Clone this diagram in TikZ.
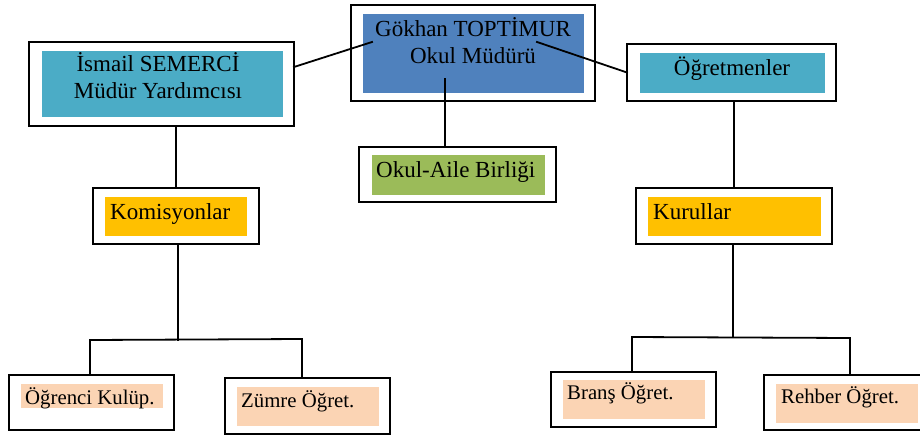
\documentclass[tikz,border=0pt]{standalone}
\usepackage{fontspec}
\setmainfont{Liberation Serif}
\usetikzlibrary{calc}
\definecolor{cblue}{HTML}{4F81BD}
\definecolor{cteal}{HTML}{4BACC6}
\definecolor{cgreen}{HTML}{9BBB59}
\definecolor{corange}{HTML}{FFC000}
\definecolor{cpeach}{HTML}{FBD4B4}
\tikzset{
  obox/.style={draw=black, line width=2pt, rectangle, inner sep=0pt, outer sep=0pt},
  fbox/.style={rectangle, inner sep=0pt, outer sep=0pt, draw=none},
  big/.style={font=\fontsize{23}{27}\selectfont, inner sep=0pt},
  small/.style={font=\fontsize{20.8}{24}\selectfont, inner sep=0pt},
  conn/.style={line width=1.8pt, line cap=rect},
}
\begin{document}
\begin{tikzpicture}[x=1pt,y=-1pt]
\useasboundingbox (0,0) rectangle (920,436);
% top: Gokhan
\node[obox, minimum width=244, minimum height=96] (gok) at (473,53) {};
\node[fbox, fill=cblue, minimum width=221, minimum height=79] (gokin) at (473.5,53.5) {};
\node[big, align=center] (gokt) at (473,41) {Gökhan TOPTİMUR\\Okul Müdürü};
% Ismail
\node[obox, minimum width=265, minimum height=84] (ism) at (161.5,84) {};
\node[fbox, fill=cteal, minimum width=241, minimum height=66] (ismin) at (162.5,84) {};
\node[big, align=center] (ismt) at (158,76) {İsmail SEMERCİ\\Müdür Yardımcısı};
% Ogretmenler
\node[obox, minimum width=209, minimum height=57] (ogr) at (731.5,72.5) {};
\node[fbox, fill=cteal, minimum width=185, minimum height=40] (ogrin) at (732.5,73) {};
\node[big, anchor=base] (ogrt) at (732,75) {Öğretmenler};
% Okul-Aile
\node[obox, minimum width=197, minimum height=55] (oab) at (457.5,174.5) {};
\node[fbox, fill=cgreen, minimum width=173, minimum height=40] (oabin) at (458.5,175) {};
\node[big, anchor=base west] (oabt) at (376,177) {Okul-Aile Birliği};
% Komisyonlar
\node[obox, minimum width=166, minimum height=56] (kom) at (176,216) {};
\node[fbox, fill=corange, minimum width=142, minimum height=39] (komin) at (176,216.5) {};
\node[big, anchor=base west] (komt) at (110,219) {Komisyonlar};
% Kurullar
\node[obox, minimum width=196, minimum height=56] (kur) at (734,216) {};
\node[fbox, fill=corange, minimum width=173, minimum height=39] (kurin) at (734.5,216.5) {};
\node[big, anchor=base west] (kurt) at (653,219) {Kurullar};
% bottom left
\node[obox, minimum width=165, minimum height=55] (ogk) at (91.5,402.5) {};
\node[fbox, fill=cpeach, minimum width=142, minimum height=24] (ogkin) at (92,396) {};
\node[small, anchor=base west] (ogkt) at (25,404) {Öğrenci Kulüp.};
\node[obox, minimum width=165, minimum height=56] (zum) at (307.5,406) {};
\node[fbox, fill=cpeach, minimum width=142, minimum height=39] (zumin) at (308,406.5) {};
\node[small, anchor=base west] (zumt) at (241,407) {Zümre Öğret.};
% bottom right
\node[obox, minimum width=165, minimum height=55] (bra) at (633.5,399.5) {};
\node[fbox, fill=cpeach, minimum width=142, minimum height=39] (brain) at (634,399.5) {};
\node[small, anchor=base west] (brat) at (567,399) {Branş Öğret.};
\node[obox, minimum width=166, minimum height=55] (reh) at (847,402.5) {};
\node[fbox, fill=cpeach, minimum width=142, minimum height=39] (rehin) at (847,403.5) {};
\node[small, anchor=base west] (reht) at (781,403) {Rehber Öğret.};
% connectors
\coordinate (g1) at (372,42);
\coordinate (g2) at (537,42);
\coordinate (g3) at (445,79);
\draw[conn] (g1) -- ($(ism.north east)+(0,25)$);
\draw[conn] (g2) -- (ogr.west);
\draw[conn] (g3) -- (g3 |- oab.north);
\draw[conn] (kom.north) -- (kom.north |- ism.south);
\draw[conn] (kur.north) -- (kur.north |- ogr.south);
\coordinate (kb) at (178,340);
\coordinate (kl) at (90,340);
\coordinate (kr) at (302,339);
\draw[conn] (kom.south -| kb) -- (kb);
\draw[conn] (kl) -- (kr);
\draw[conn] (kl) -- (kl |- ogk.north);
\draw[conn] (kr) -- (kr |- zum.north);
\coordinate (rb) at (733,337);
\coordinate (rl) at (632,337);
\coordinate (rr) at (850,338);
\draw[conn] (kur.south -| rb) -- (rb);
\draw[conn] (rl) -- (rr);
\draw[conn] (rl) -- (rl |- bra.north);
\draw[conn] (rr) -- (rr |- reh.north);
\end{tikzpicture}
\end{document}
